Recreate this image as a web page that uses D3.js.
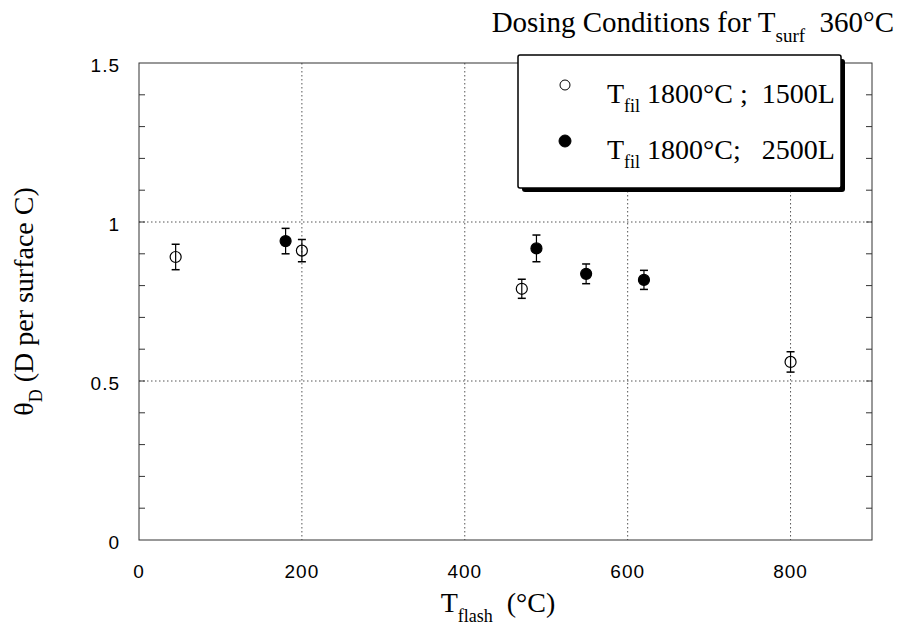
<!DOCTYPE html>
<meta charset="utf-8">
<script src="https://d3js.org/d3.v7.min.js"></script>
<style>
  body { margin: 0; background: #fff; }
</style>
<div id="my_dataviz"></div>
<script>

// data
var open_x    = [45, 200, 470, 800];
var open_y    = [0.89, 0.91, 0.79, 0.56];
var open_err  = [0.04, 0.035, 0.03, 0.032];

var filled_x   = [180, 488, 549, 620];
var filled_y   = [0.94, 0.917, 0.837, 0.818];
var filled_err = [0.04, 0.042, 0.031, 0.03];

var xTicks = [0, 200, 400, 600, 800];
var yTicks = [0, 0.5, 1, 1.5];
var yMinor = d3.range(1, 15).map(function(i){ return i / 10; });

var W = 908, H = 632;
var margin = {top: 63, right: 36, bottom: 92, left: 139},
    width = W - margin.left - margin.right,
    height = H - margin.top - margin.bottom;

var serif = "'Liberation Serif', 'Times New Roman', serif";
var sans = "'Liberation Sans', Arial, sans-serif";

var svg = d3.select("#my_dataviz")
  .append("svg")
    .attr("width", W)
    .attr("height", H);

var g = svg.append("g")
    .attr("transform", "translate(" + margin.left + "," + margin.top + ")");

var x = d3.scaleLinear().domain([0, 900]).range([0, width]);
var y = d3.scaleLinear().domain([0, 1.5]).range([height, 0]);

// dotted grid
g.selectAll(".vgrid")
  .data(xTicks.filter(function(d){ return d > 0; }))
  .enter().append("line")
    .attr("x1", function(d){ return x(d); })
    .attr("x2", function(d){ return x(d); })
    .attr("y1", 0).attr("y2", height)
    .attr("stroke", "#555").attr("stroke-width", 1)
    .attr("stroke-dasharray", "1.5,2.5");

g.selectAll(".hgrid")
  .data([0.5, 1])
  .enter().append("line")
    .attr("x1", 0).attr("x2", width)
    .attr("y1", function(d){ return y(d); })
    .attr("y2", function(d){ return y(d); })
    .attr("stroke", "#555").attr("stroke-width", 1)
    .attr("stroke-dasharray", "1.5,2.5");

// minor ticks left and right (pointing in)
g.selectAll(".ltick")
  .data(yMinor)
  .enter().append("line")
    .attr("x1", 0).attr("x2", 6)
    .attr("y1", function(d){ return y(d); })
    .attr("y2", function(d){ return y(d); })
    .attr("stroke", "#333").attr("stroke-width", 1);

g.selectAll(".rtick")
  .data(yMinor)
  .enter().append("line")
    .attr("x1", width - 6).attr("x2", width)
    .attr("y1", function(d){ return y(d); })
    .attr("y2", function(d){ return y(d); })
    .attr("stroke", "#333").attr("stroke-width", 1);

// frame
g.append("rect")
  .attr("x", 0).attr("y", 0)
  .attr("width", width).attr("height", height)
  .attr("fill", "none")
  .attr("stroke", "#333").attr("stroke-width", 1);

// tick labels
g.selectAll(".xlab")
  .data(xTicks)
  .enter().append("text")
    .attr("x", function(d){ return x(d); })
    .attr("y", height + 38)
    .attr("text-anchor", "middle")
    .style("font", "19px " + sans)
    .style("letter-spacing", "1px")
    .text(function(d){ return d; });

g.selectAll(".ylab")
  .data(yTicks)
  .enter().append("text")
    .attr("x", -19)
    .attr("y", function(d){ return y(d) + 9; })
    .attr("text-anchor", "end")
    .style("font", "19px " + sans)
    .style("letter-spacing", "1px")
    .text(function(d){ return d; });

// error bars + markers
function draw_series(xs, ys, es, filled, r) {
  var pts = xs.map(function(d, i){ return {x: d, y: ys[i], e: es[i]}; });
  var s = g.append("g").selectAll("g").data(pts).enter().append("g");
  s.append("line")
    .attr("x1", function(d){ return x(d.x); })
    .attr("x2", function(d){ return x(d.x); })
    .attr("y1", function(d){ return y(d.y + d.e); })
    .attr("y2", function(d){ return y(d.y - d.e); })
    .attr("stroke", "#000").attr("stroke-width", 1.2);
  [1, -1].forEach(function(sg){
    s.append("line")
      .attr("x1", function(d){ return x(d.x) - 4; })
      .attr("x2", function(d){ return x(d.x) + 4; })
      .attr("y1", function(d){ return y(d.y + sg * d.e); })
      .attr("y2", function(d){ return y(d.y + sg * d.e); })
      .attr("stroke", "#000").attr("stroke-width", 1.5);
  });
  s.append("circle")
    .attr("cx", function(d){ return x(d.x); })
    .attr("cy", function(d){ return y(d.y); })
    .attr("r", r)
    .attr("fill", filled ? "#000" : "none")
    .attr("stroke", "#000").attr("stroke-width", 1.2);
}
draw_series(open_x, open_y, open_err, false, 5.5);
draw_series(filled_x, filled_y, filled_err, true, 5.5);

// legend with drop shadow
var lg = svg.append("g").attr("transform", "translate(518,55)");
lg.append("rect").attr("x", 4).attr("y", 4).attr("width", 323).attr("height", 133)
  .attr("rx", 3).attr("fill", "#000");
lg.append("rect").attr("x", 0).attr("y", 0).attr("width", 323).attr("height", 133)
  .attr("rx", 2).attr("fill", "#fff").attr("stroke", "#000").attr("stroke-width", 1.5);

var legendRows = [
  {filled: false, text: "1800°C ; \u00a01500L"},
  {filled: true,  text: "1800°C; \u00a0 2500L"}
];
legendRows.forEach(function(d, i){
  var cy = 30 + i * 56;
  lg.append("circle").attr("cx", 47).attr("cy", cy)
    .attr("r", d.filled ? 6 : 5)
    .attr("fill", d.filled ? "#000" : "#fff")
    .attr("stroke", "#000").attr("stroke-width", 1);
  var t = lg.append("text").attr("x", 89).attr("y", cy + 18)
    .style("font", "28px " + serif);
  t.append("tspan").text("T");
  t.append("tspan").attr("dy", 9).style("font-size", "18px").text("fil");
  t.append("tspan").attr("dy", -9).text(" " + d.text);
});

// title
var title = svg.append("text").attr("x", 894).attr("y", 32)
  .attr("text-anchor", "end")
  .style("font", "29px " + serif);
title.append("tspan").text("Dosing Conditions for T");
title.append("tspan").attr("dy", 10).style("font-size", "19px").text("surf");
title.append("tspan").attr("dy", -10).text("\u00a0 360°C");

// x axis label
var xl = svg.append("text").attr("x", 498).attr("y", 612)
  .attr("text-anchor", "middle")
  .style("font", "28px " + serif);
xl.append("tspan").text("T");
xl.append("tspan").attr("dy", 10).style("font-size", "18px").text("flash");
xl.append("tspan").attr("dy", -10).text("\u00a0 (°C)");

// y axis label
var yl = svg.append("text")
  .attr("transform", "translate(33," + (margin.top + height / 2) + ") rotate(-90)")
  .attr("text-anchor", "middle")
  .style("font", "28px " + serif);
yl.append("tspan").text("θ");
yl.append("tspan").attr("dy", 9).style("font-size", "18px").text("D");
yl.append("tspan").attr("dy", -9).text(" (D per surface C)");

</script>
